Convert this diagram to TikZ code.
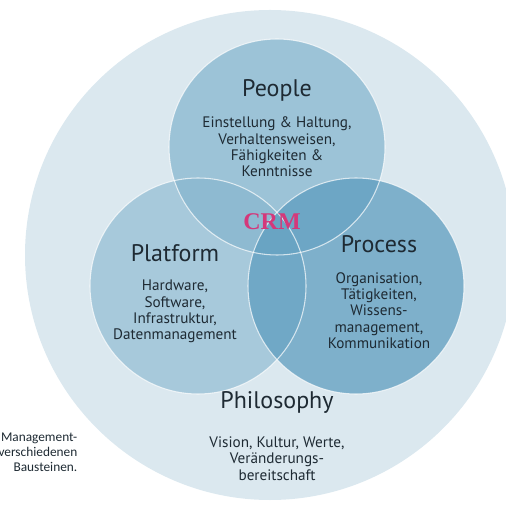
\documentclass[tikz,border=0pt]{standalone}
\usepackage{fontspec}
\setmainfont{PT Sans}
\newfontfamily\capfont{Carlito}
\newfontfamily\crmfont{Liberation Serif}

\definecolor{philofill}{HTML}{DBE8EF}
\definecolor{peoplefill}{HTML}{5F9FC0}
\definecolor{platfill}{HTML}{85B5CE}
\definecolor{procfill}{HTML}{5C9CBF}
\definecolor{textdark}{HTML}{1E2A33}
\definecolor{crmred}{HTML}{D4387A}

\begin{document}
\begin{tikzpicture}[x=0.75pt,y=-0.75pt,
    title/.style={anchor=base,text=textdark,font=\fontsize{18}{22}\selectfont},
    body/.style={text=textdark,align=center,font=\fontsize{11.4}{12.3}\selectfont},
    ring/.style={draw=white,line width=0.8pt,opacity=0.7}]
    \useasboundingbox (0,0) rectangle (506,505);
    \clip (0,0) rectangle (506,505);

    % outer circle and the three overlapping ones
    \fill[philofill] (270,255) circle (183.75pt);
    \fill[peoplefill,fill opacity=0.5]  (277,147) circle (81pt);
    \fill[platfill,fill opacity=0.6]    (198,286) circle (81pt);
    \fill[procfill,fill opacity=0.73]   (356,286) circle (81pt);
    \draw[ring] (277,147) circle (81pt);
    \draw[ring] (198,286) circle (81pt);
    \draw[ring] (356,286) circle (81pt);

    % labels
    \node[title] (people) at (277,97) {People};
    \node[body] (peopletxt) at (277,147) {Einstellung \& Haltung,\\Verhaltensweisen,\\Fähigkeiten \&\\Kenntnisse};
    \node[title] (platform) at (175,262) {Platform};
    \node[body] (platformtxt) at (175,311.5) {Hardware,\\Software,\\Infrastruktur,\\Datenmanagement};
    \node[title] (process) at (379,253) {Process};
    \node[body] (processtxt) at (379,310.5) {Organisation,\\Tätigkeiten,\\Wissens-\\management,\\Kommunikation};
    \node[title] (philosophy) at (277,408) {Philosophy};
    \node[body] (philotxt) at (277,458.5) {Vision, Kultur, Werte,\\Veränderungs-\\bereitschaft};
    \node[anchor=base,text=crmred,font=\crmfont\bfseries\fontsize{18}{22}\selectfont] (crm) at (272,230) {CRM};

    \node[anchor=east,align=right,text=textdark,font=\capfont\fontsize{10}{11.3}\selectfont] (caption) at (82,452) {Management-\\verschiedenen\\Bausteinen.};
\end{tikzpicture}
\end{document}
